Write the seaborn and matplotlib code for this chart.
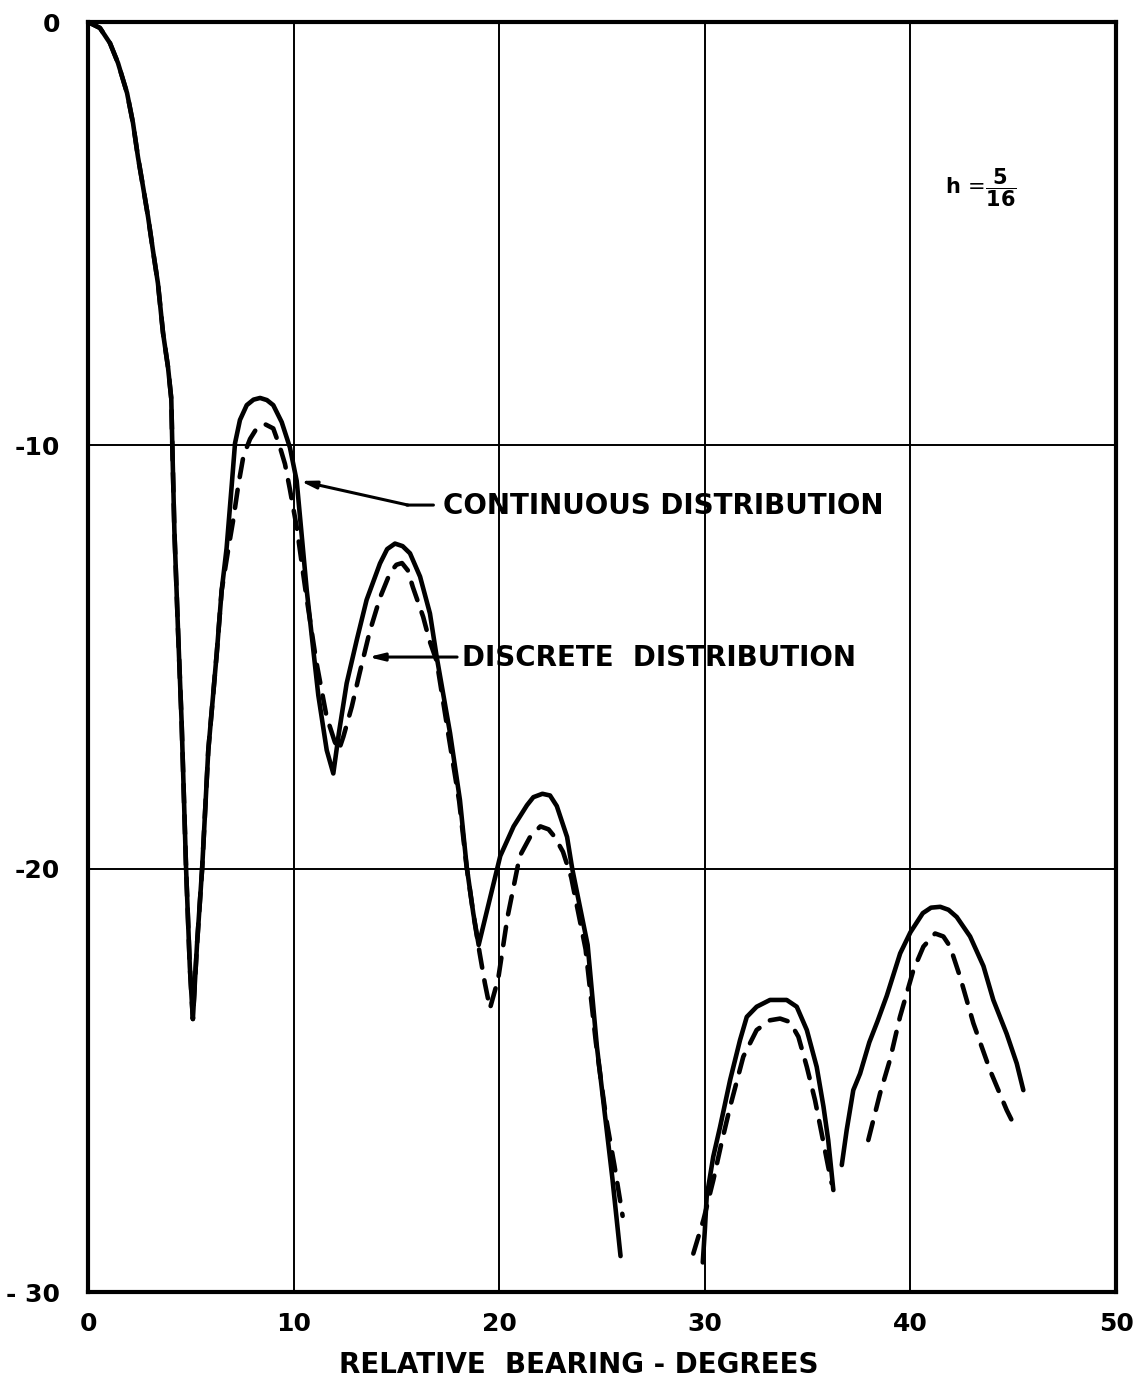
import matplotlib
matplotlib.use("Agg")
import matplotlib.pyplot as plt
import seaborn as sns
import pandas as pd

# ---------------- data ----------------
# main lobe, common to both distributions (bearing in degrees, level in dB)
main_lobe_x = [0, 0.58, 1.07, 1.46, 1.9, 2.19, 2.43, 2.68, 2.92, 3.16, 3.4, 3.65,
               3.89, 4.05, 4.1, 4.2, 4.38, 4.55, 4.77, 4.95, 5.1, 5.3, 5.55, 5.85,
               6.26, 6.5]
main_lobe_y = [0, -0.14, -0.5, -0.97, -1.68, -2.39, -3.19, -3.9, -4.6, -5.4, -6.17, -7.35,
               -8.15, -8.9, -10.0, -12.0, -14.4, -16.5, -20.0, -22.3, -23.55, -21.8, -20.0, -17.2,
               -14.92, -13.43]

# continuous distribution (solid)
cont_seg1_x = [6.74, 6.99, 7.15, 7.39, 7.72, 8.05, 8.37, 8.7, 9.01, 9.42, 9.82, 10.15,
               10.64, 11.2, 11.61, 11.93, 12.2, 12.58, 13.07, 13.55, 14.2, 14.55, 14.93, 15.3,
               15.66, 16.15, 16.63, 16.96, 17.61, 18.09, 18.42, 18.74, 19.0, 19.55, 20.05, 20.7,
               21.35, 21.66, 22.1, 22.47, 22.8, 23.3, 23.55, 24.3, 24.75, 25.15, 25.5, 25.9]
cont_seg1_y = [-12.43, -10.94, -9.95, -9.40, -9.05, -8.92, -8.88, -8.93, -9.05, -9.45, -10.05, -10.84,
               -13.43, -15.9, -17.2, -17.75, -16.8, -15.62, -14.6, -13.65, -12.79, -12.45, -12.32, -12.38,
               -12.55, -13.1, -13.97, -15.0, -16.8, -18.38, -19.96, -21.06, -21.8, -20.7, -19.7, -19.0,
               -18.5, -18.31, -18.23, -18.27, -18.52, -19.25, -20.0, -21.8, -24.2, -25.85, -27.3, -29.15]
cont_seg2_x = [29.9, 30.0, 30.09, 30.41, 30.74, 31.23, 31.71, 32.04, 32.52, 33.17, 33.98, 34.47,
               34.96, 35.44, 35.77, 36.0, 36.25]
cont_seg2_y = [-29.3, -28.54, -27.75, -26.8, -26.1, -24.99, -24.05, -23.5, -23.26, -23.1, -23.1, -23.26,
               -23.81, -24.68, -25.62, -26.41, -27.59]
cont_seg3_x = [36.66, 36.9, 37.22, 37.55, 38.0, 38.4, 38.85, 39.5, 40.0, 40.6, 41.0, 41.45,
               41.85, 42.25, 42.9, 43.55, 44.03, 44.68, 45.17, 45.49]
cont_seg3_y = [-27.0, -26.17, -25.23, -24.84, -24.1, -23.6, -23.0, -22.0, -21.5, -21.05, -20.92, -20.9,
               -20.97, -21.14, -21.6, -22.3, -23.1, -23.9, -24.6, -25.23]

# discrete distribution (dashed)
disc_seg1_x = [6.83, 7.07, 7.31, 7.56, 7.88, 8.2, 8.61, 9.01, 9.34, 9.58, 9.82, 10.15,
               10.6, 11.1, 11.6, 12.0, 12.2, 12.42, 12.83, 13.2, 13.7, 14.2, 14.7, 15.0,
               15.27, 15.55, 15.8, 16.3, 16.6, 16.96, 17.55, 18.05, 18.4, 18.75, 19.05, 19.3,
               19.55, 19.95, 20.4, 21.0, 21.5, 22.0, 22.4, 22.7, 23.1, 23.5, 24.2, 24.7,
               25.2, 25.6, 26.0]
disc_seg1_y = [-12.43, -11.74, -10.94, -10.25, -9.85, -9.6, -9.5, -9.6, -10.05, -10.44, -11.04, -11.93,
               -13.5, -15.1, -16.4, -17.0, -17.2, -16.88, -16.17, -15.4, -14.4, -13.6, -13.0, -12.82,
               -12.78, -12.95, -13.35, -14.05, -14.6, -15.1, -16.9, -18.4, -19.9, -21.1, -22.0, -22.7,
               -23.3, -22.6, -21.15, -19.7, -19.25, -19.0, -19.07, -19.25, -19.6, -20.2, -21.9, -24.1,
               -25.9, -27.0, -28.2]
disc_seg2_x = [29.44, 29.93, 30.41, 30.8, 31.23, 31.87, 32.52, 33.17, 33.66, 34.14, 34.55, 34.96,
               35.36, 35.68, 36.0, 36.17]
disc_seg2_y = [-29.09, -28.3, -27.36, -26.5, -25.62, -24.44, -23.81, -23.58, -23.54, -23.62, -23.97, -24.68,
               -25.47, -26.25, -27.04, -27.43]
disc_seg3_x = [37.95, 38.52, 39.0, 39.49, 40.14, 40.63, 41.2, 41.6, 41.93, 42.41, 43.06, 43.87,
               44.68, 45.17]
disc_seg3_y = [-26.41, -25.31, -24.52, -23.5, -22.4, -21.84, -21.53, -21.6, -21.84, -22.55, -23.65, -24.76,
               -25.7, -26.18]

x_ticks = [0, 10, 20, 30, 40, 50]
x_tick_labels = ["0", "10", "20", "30", "40", "50"]
y_ticks = [0, -10, -20, -30]
y_tick_labels = ["0", "-10", "-20", "- 30"]

label_cont = "CONTINUOUS DISTRIBUTION"
label_disc = "DISCRETE  DISTRIBUTION"
x_label = "RELATIVE  BEARING - DEGREES"
h_label = r"$\mathbf{h}\,=\!\dfrac{\mathbf{5}}{\mathbf{16}}$"

# ---------------- build long-form table ----------------
segments = [
    ("Continuous", "C1", main_lobe_x + cont_seg1_x, main_lobe_y + cont_seg1_y),
    ("Continuous", "C2", cont_seg2_x, cont_seg2_y),
    ("Continuous", "C3", cont_seg3_x, cont_seg3_y),
    ("Discrete", "D1", main_lobe_x + disc_seg1_x, main_lobe_y + disc_seg1_y),
    ("Discrete", "D2", disc_seg2_x, disc_seg2_y),
    ("Discrete", "D3", disc_seg3_x, disc_seg3_y),
]
frames = []
for series, seg, xs, ys in segments:
    frames.append(pd.DataFrame({"bearing": xs, "level": ys,
                                "series": series, "segment": seg}))
df = pd.concat(frames, ignore_index=True)

# ---------------- plot ----------------
sns.set_style("white")
plt.rcParams["font.family"] = ["DejaVu Sans"]
plt.rcParams["mathtext.fontset"] = "dejavusans"
plt.rcParams["text.color"] = "black"
plt.rcParams["axes.labelcolor"] = "black"
plt.rcParams["xtick.color"] = "black"
plt.rcParams["ytick.color"] = "black"

fig = plt.figure(figsize=(11.4, 13.85), dpi=100)
ax = fig.add_axes([0.0772, 0.0671, 0.9018, 0.917])

sns.lineplot(data=df, x="bearing", y="level", units="segment", estimator=None,
             style="series", dashes={"Continuous": "", "Discrete": (4, 2.8)},
             color="black", linewidth=3.3, sort=False, legend=False, ax=ax)
for ln in ax.lines:
    ln.set_solid_capstyle("round")
    ln.set_dash_capstyle("round")
    ln.set_solid_joinstyle("round")
    ln.set_zorder(3)

ax.set_xlim(0, 50)
ax.set_ylim(-30, 0)
ax.set_xticks(x_ticks)
ax.set_xticklabels(x_tick_labels, fontweight="bold")
ax.set_yticks(y_ticks)
ax.set_yticklabels(y_tick_labels, fontweight="bold")
ax.tick_params(length=0, labelsize=18, colors="black")
ax.tick_params(axis="x", pad=14)
ax.tick_params(axis="y", pad=20)
ax.grid(True, color="black", linewidth=1.4)
ax.set_axisbelow(True)
for sp in ax.spines.values():
    sp.set_visible(True)
    sp.set_color("black")
    sp.set_linewidth(3)

ax.set_ylabel("")
ax.set_xlabel(x_label, fontsize=20, fontweight="bold", color="black")
ax.xaxis.label.set_va("center")
ax.xaxis.set_label_coords(0.477, -0.0575)

# annotations
arrow_kw = dict(arrowstyle="-|>,head_length=0.9,head_width=0.22", color="black",
                lw=2.2, shrinkA=0, shrinkB=0)
ax.annotate("", xy=(10.31, -10.84), xytext=(15.56, -11.41), arrowprops=arrow_kw, zorder=4)
ax.annotate("", xy=(15.5, -11.41), xytext=(16.8, -11.41),
            arrowprops=dict(arrowstyle="-", color="black", lw=2.2, shrinkA=0, shrinkB=0))
ax.text(17.27, -11.43, label_cont, fontsize=20, fontweight="bold", ha="left", va="center")

ax.annotate("", xy=(13.63, -15.0), xytext=(17.95, -15.0), arrowprops=arrow_kw, zorder=4)
ax.text(18.19, -15.02, label_disc, fontsize=20, fontweight="bold", ha="left", va="center")

ax.text(43.4, -3.92, h_label, fontsize=15, ha="center", va="center")

fig.savefig("out.png", dpi=100, facecolor="white")
